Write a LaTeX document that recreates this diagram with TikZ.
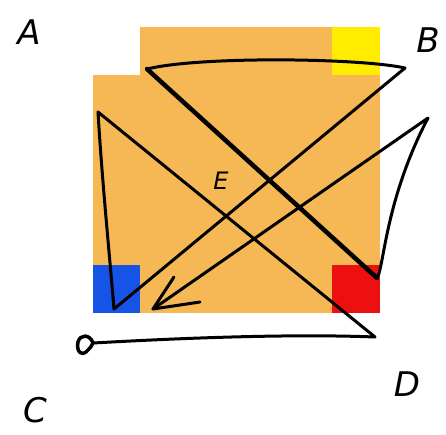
\documentclass[tikz,border=0pt]{standalone}
\usepackage{fontspec}
\setmainfont{DejaVu Sans}
\usetikzlibrary{arrows.meta}
\definecolor{sqorange}{RGB}{245,184,84}
\definecolor{sqyellow}{RGB}{255,236,0}
\definecolor{sqblue}{RGB}{22,84,232}
\definecolor{sqred}{RGB}{238,16,16}
\tikzset{
  ink/.style={draw=black, line width=3pt, line cap=round, line join=round},
  lbl/.style={font=\fontsize{34}{34}\selectfont\itshape, inner sep=0pt},
}
\begin{document}
\begin{tikzpicture}[x=1pt,y=-1pt]
\useasboundingbox (0,0) rectangle (446,434);
% square
\fill[sqorange] (93,27) rectangle (380,313);
\fill[white] (93,27) rectangle (140,75);
\fill[sqyellow] (332,27) rectangle (380,75);
\fill[sqblue] (93,265) rectangle (140,313);
\fill[sqred] (332,265) rectangle (380,313);
% path points
\coordinate (p0) at (93,343);
\coordinate (p1) at (375,337);
\coordinate (p2) at (98,112);
\coordinate (p3) at (114,309);
\coordinate (p4) at (405,68);
\coordinate (p5) at (147,69);
\coordinate (p6) at (377,278);
\coordinate (p7) at (428,118);
\coordinate (p8) at (153,309);
\coordinate (h1) at (174,277);
\coordinate (h2) at (200,302);
% loop at start
\draw[ink, line width=3.5pt] (p0) .. controls (90,334) and (80,334) .. (78,342)
  .. controls (76,352) and (82,356) .. (86,352)
  .. controls (90,348) and (92,346) .. (p0);
\draw[ink] (p0) .. controls (200,337) and (300,334) .. (p1)
  -- (p2) .. controls (102,180) and (110,260) .. (p3)
  -- (p4) .. controls (360,58) and (200,56) .. (p5);
\draw[ink, line width=4.5pt] (p5) -- (p6);
\draw[ink] (p6) .. controls (384,268) and (385,200) .. (p7)
  -- (p8);
\draw[ink] (h1) -- (p8) -- (h2);
% labels
\node[lbl] (A) at (29,32) {A};
\node[lbl] (B) at (428,40) {B};
\node[lbl] (C) at (35,410) {C};
\node[lbl] (D) at (407,384) {D};
\node[lbl, font=\fontsize{24}{24}\selectfont\itshape] (E) at (221,181) {E};
\end{tikzpicture}
\end{document}
